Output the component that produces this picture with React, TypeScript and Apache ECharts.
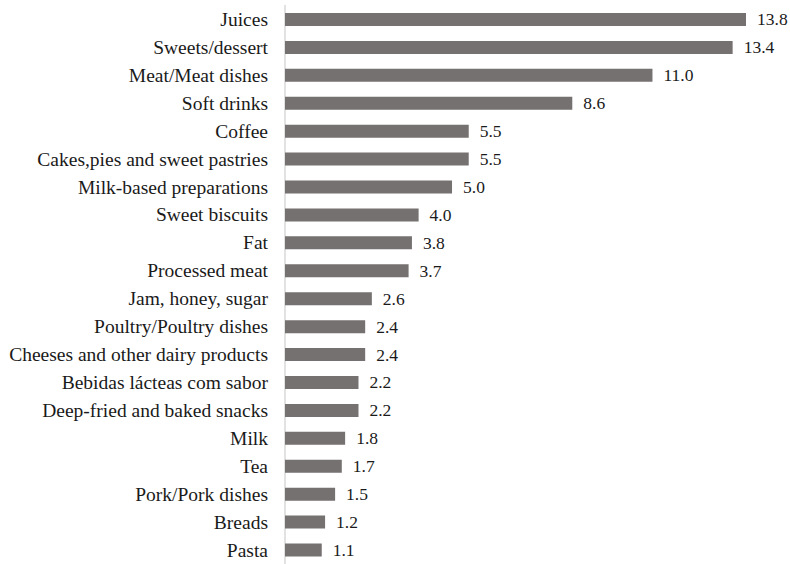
import React, { useEffect, useRef } from "react";
import * as echarts from "echarts";

const categories = [
  "Juices",
  "Sweets/dessert",
  "Meat/Meat dishes",
  "Soft drinks",
  "Coffee",
  "Cakes,pies and sweet pastries",
  "Milk-based preparations",
  "Sweet biscuits",
  "Fat",
  "Processed meat",
  "Jam, honey, sugar",
  "Poultry/Poultry dishes",
  "Cheeses and other dairy products",
  "Bebidas lácteas com sabor",
  "Deep-fried and baked snacks",
  "Milk",
  "Tea",
  "Pork/Pork dishes",
  "Breads",
  "Pasta",
];

const values = [13.8, 13.4, 11.0, 8.6, 5.5, 5.5, 5.0, 4.0, 3.8, 3.7, 2.6, 2.4, 2.4, 2.2, 2.2, 1.8, 1.7, 1.5, 1.2, 1.1];

const FONT = "Liberation Serif";

export default function App() {
  const ref = useRef<HTMLDivElement>(null);
  useEffect(() => {
    if (!ref.current) return;
    const chart = echarts.init(ref.current, null, { renderer: "svg" });
    chart.setOption({
      animation: false,
      backgroundColor: "#ffffff",
      textStyle: { fontFamily: FONT },
      grid: { left: 285, top: 5.5, width: 461, height: 564 },
      xAxis: {
        type: "value",
        min: 0,
        max: 13.8,
        show: false,
      },
      yAxis: {
        type: "category",
        data: categories,
        inverse: true,
        axisLine: { show: true, lineStyle: { color: "#d9d9d9", width: 1.5 } },
        axisTick: { show: false },
        axisLabel: {
          fontFamily: FONT,
          fontSize: 19.5,
          color: "#1a1a1a",
          margin: 17,
        },
      },
      series: [
        {
          type: "bar",
          data: values,
          barWidth: 13,
          itemStyle: { color: "#767171" },
          label: {
            show: true,
            position: "right",
            distance: 11,
            fontFamily: FONT,
            fontSize: 17.5,
            color: "#1a1a1a",
            formatter: (p: any) => Number(p.value).toFixed(1),
          },
        },
      ],
    });
    return () => chart.dispose();
  }, []);
  return (
    <div
      ref={ref}
      style={{ position: "fixed", left: 0, top: 0, width: 790, height: 564 }}
    />
  );
}
